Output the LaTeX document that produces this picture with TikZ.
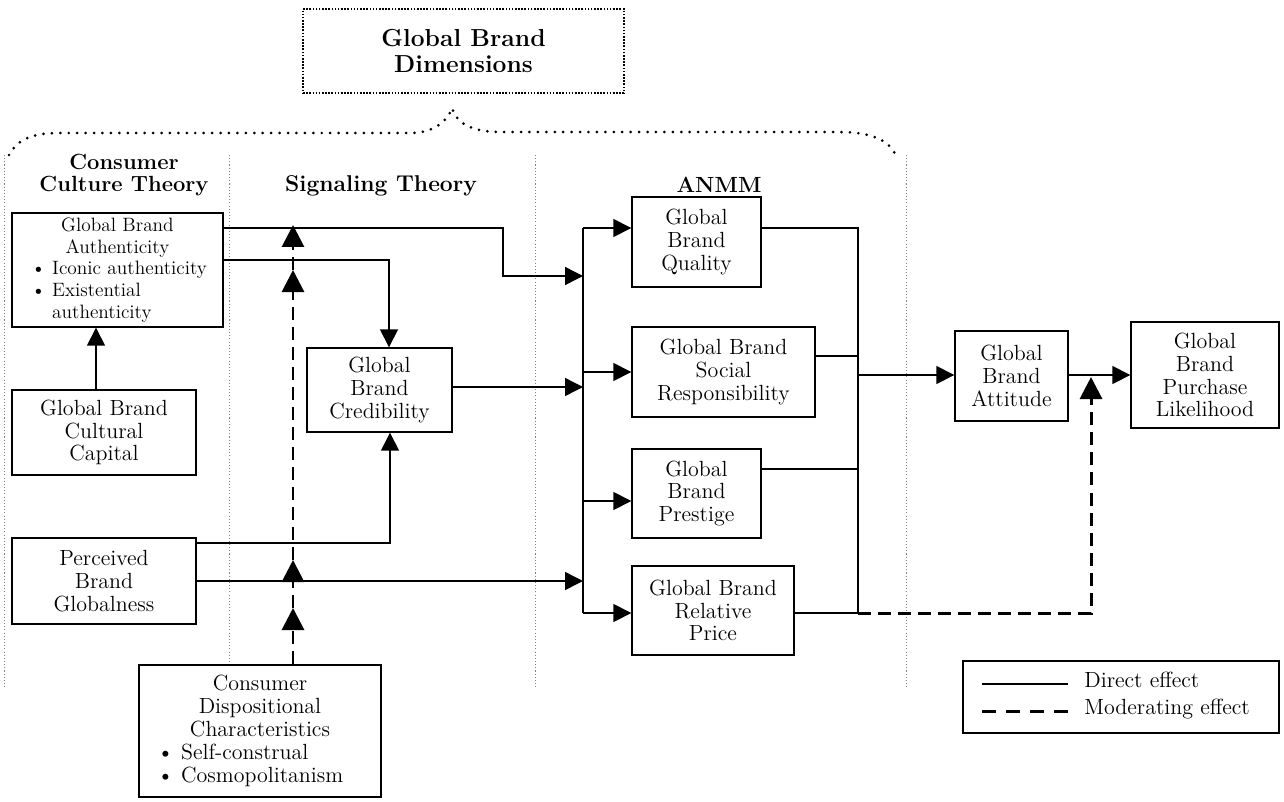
\documentclass[tikz,border=0pt]{standalone}
\usetikzlibrary{arrows.meta}
\begin{document}
\begin{tikzpicture}[x=0.02cm,y=-0.02cm,
 box/.style={draw,fill=white,line width=0.8pt,inner sep=0pt,align=center,font=\fontsize{12.5}{13}\selectfont},
 head/.style={align=center,font=\bfseries\fontsize{12.5}{12.5}\selectfont,inner sep=0pt},
 conn/.style={line width=0.8pt,-{Triangle[length=0.36cm,width=0.36cm]}},
 dirline/.style={line width=0.8pt},
 mod/.style={line width=1.7pt,dash pattern=on 7.4pt off 4pt,-{Triangle[length=0.44cm,width=0.44cm]}},
 modline/.style={line width=1.7pt,dash pattern=on 0.28cm off 0.2cm},
 sep/.style={gray,line width=0.5pt,dash pattern=on 0.6pt off 1.2pt},
 brace/.style={line width=1.7pt,line cap=round,dash pattern=on 0pt off 4.8pt},
 topbox/.style={draw,line width=0.9pt,dash pattern=on 0.9pt off 0.9pt,inner sep=0pt,align=center,font=\bfseries\fontsize{14}{14.5}\selectfont}]
\fill[white] (0,0) rectangle (1284,801);
\useasboundingbox (0,0) rectangle (1284,801);

% separators
\draw[sep] (4,155) -- (4,688);
\draw[sep] (229,155) -- (229,665);
\draw[sep] (535,155) -- (535,688);
\draw[sep] (906,155) -- (906,688);

% title and brace
\node[topbox,minimum width=6.42cm,minimum height=1.68cm] (top) at (463.5,51) {Global Brand\\Dimensions};
\draw[brace] (9,155) .. controls (18,138) and (35,133) .. (60,133) -- (410,133)
  .. controls (435,133) and (448,120) .. (452,108)
  .. controls (456,122) and (470,132) .. (500,132) -- (840,132)
  .. controls (870,132) and (890,140) .. (896,156);

% headings
\node[head] (hcct) at (124,175) {Consumer\\Culture Theory};
\node[head,anchor=base,font=\bfseries\fontsize{13}{13}\selectfont] (hsig) at (381,191) {Signaling Theory};
\node[head,anchor=base] (hanm) at (719,192) {ANMM};

% boxes
\node[box,minimum width=4.22cm,minimum height=2.28cm,text width=4.22cm,font=\fontsize{11}{12.4}\selectfont] (auth) at (117.5,270)
 {Global Brand\\Authenticity\\
  \makebox[4.22cm][l]{\hspace{0.38cm}\textbullet\ Iconic authenticity}\\
  \makebox[4.22cm][l]{\hspace{0.38cm}\textbullet\ Existential}\\
  \makebox[4.22cm][l]{\hspace{0.38cm}\phantom{\textbullet\ }authenticity}};
\node[box,minimum width=3.68cm,minimum height=1.70cm] (cap) at (104,432.5) {Global Brand\\Cultural\\Capital};
\node[box,minimum width=2.90cm,minimum height=1.68cm] (cred) at (379.5,390) {Global\\Brand\\Credibility};
\node[box,minimum width=3.68cm,minimum height=1.72cm] (perc) at (104,581) {Perceived\\Brand\\Globalness};
\node[box,minimum width=4.84cm,minimum height=2.64cm,text width=4.84cm] (disp) at (260,731)
 {Consumer\\Dispositional\\Characteristics\\
  \makebox[4.84cm][l]{\hspace{0.36cm}\textbullet\ Self-construal}\\
  \makebox[4.84cm][l]{\hspace{0.36cm}\textbullet\ Cosmopolitanism}};
\node[box,minimum width=2.58cm,minimum height=1.80cm] (qual) at (696.5,242) {Global\\Brand\\Quality};
\node[box,minimum width=3.66cm,minimum height=1.80cm] (soc) at (723.5,372) {Global Brand\\Social\\Responsibility};
\node[box,minimum width=2.58cm,minimum height=1.78cm] (pres) at (696.5,493.5) {Global\\Brand\\Prestige};
\node[box,minimum width=3.24cm,minimum height=1.78cm] (price) at (713,610.5) {Global Brand\\Relative\\Price};
\node[box,minimum width=2.26cm,minimum height=1.80cm] (att) at (1011.5,376) {Global\\Brand\\Attitude};
\node[box,minimum width=2.96cm,minimum height=2.12cm] (purch) at (1205,375) {Global\\Brand\\Purchase\\Likelihood};

% bus coordinates
\coordinate (bt) at (583,228);
\coordinate (b1) at (583,276);
\coordinate (b2) at (583,387);
\coordinate (b3) at (583,581);
\coordinate (b4) at (583,501);
\coordinate (bb) at (583,613);
\coordinate (c1) at (858,228);
\coordinate (c3) at (858,356);
\coordinate (c4) at (858,469);
\coordinate (cm) at (858,375);
\coordinate (c2) at (858,613);

% left side connectors
\draw[conn] (auth.east |- bt) -- (503,228) -- (503,276) -- (b1);
\draw[conn] ([yshift=0.2cm]auth.east) -| ([xshift=0.19cm]cred.north);
\draw[conn] ([xshift=-0.16cm]cap.north) -- ([xshift=-0.16cm]cap.north |- auth.south);
\draw[conn] (cred.east |- b2) -- (b2);
\draw[conn] ([yshift=0.76cm]perc.east) -| ([xshift=0.21cm]cred.south);
\draw[conn] (perc.east |- b3) -- (b3);

% bus to dimensions
\draw[dirline] (bt) -- (bb);
\draw[conn] (bt) -- (qual.west |- bt);
\draw[conn] (soc.west -| bt) -- (soc.west);
\draw[conn] (b4) -- (pres.west |- b4);
\draw[conn] (bb) -- (price.west |- bb);

% dimensions to attitude
\draw[dirline] (qual.east |- c1) -- (c1) -- (c2) -- (price.east |- c2);
\draw[dirline] (soc.east |- c3) -- (c3);
\draw[dirline] (pres.east |- c4) -- (c4);
\draw[conn] (cm) -- (att.west |- cm);
\draw[conn] (att.east |- cm) -- (purch.west |- cm);

% moderating effects
\coordinate (m5) at (1091,377);
\draw[mod] (c2) -| (m5);
\coordinate (m1) at (293,608);
\coordinate (m2) at (293,560);
\coordinate (m3) at (293,270);
\coordinate (m4) at (293,225);
\draw[mod] (disp.north -| m1) -- (m1);
\draw[mod] (m1) -- (m2);
\draw[mod] (m2) -- (m3);
\draw[mod] (m3) -- (m4);

% legend
\node[draw,line width=0.8pt,minimum width=6.32cm,minimum height=1.44cm,inner sep=0pt] (legend) at (1121,697) {};
\coordinate (ld1) at (982,684);
\coordinate (ld2) at (1068,684);
\coordinate (lm1) at (982,711);
\coordinate (lm2) at (1068,711);
\draw[line width=0.6pt] (ld1) -- (ld2);
\draw[modline] (lm1) -- (lm2);
\node[anchor=west,inner sep=0pt,font=\fontsize{12.5}{13}\selectfont] (ldt) at (1084,680) {Direct effect};
\node[anchor=west,inner sep=0pt,font=\fontsize{12.5}{13}\selectfont] (lmt) at (1084,709) {Moderating effect};
\end{tikzpicture}
\end{document}
